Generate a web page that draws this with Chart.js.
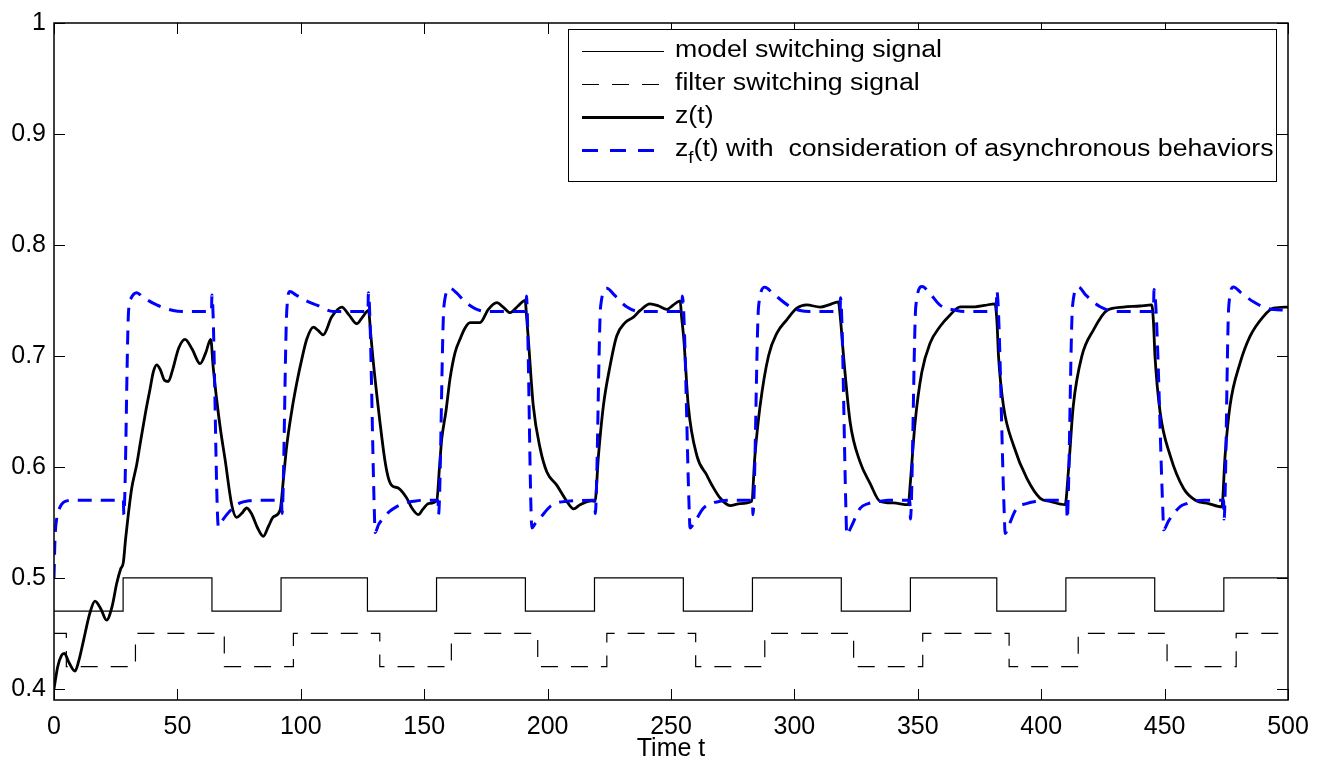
<!DOCTYPE html>
<html>
<head>
<meta charset="utf-8">
<script src="https://cdn.jsdelivr.net/npm/chart.js@4.4.0/dist/chart.umd.min.js"></script>
<style>
  html, body { margin: 0; padding: 0; background: #fff; }
  #wrap { width: 1325px; height: 768px; }
</style>
</head>
<body>
<div id="wrap"><canvas id="chart" width="1325" height="768"></canvas></div>
<script>
// Axis ticks
const xTicks = [0, 50, 100, 150, 200, 250, 300, 350, 400, 450, 500];
const yTicks = [0.4, 0.5, 0.6, 0.7, 0.8, 0.9, 1.0];

// Legend labels
const seriesLabels = ['model switching signal', 'filter switching signal', 'z(t)', 'z_f(t) with  consideration of asynchronous behaviors'];

// Model switching signal (switch times and new levels)
const modelTime  = [0, 28, 64, 92, 127, 155, 191, 219, 255, 283, 319, 347, 382, 410, 446, 474, 500];
const modelValue = [0.47, 0.5, 0.47, 0.5, 0.47, 0.5, 0.47, 0.5, 0.47, 0.5, 0.47, 0.5, 0.47, 0.5, 0.47, 0.5, 0.5];

// Filter switching signal
const filterTime  = [0, 5, 33, 69, 97, 132, 161, 196, 224, 260, 288, 324, 352, 387, 415, 451, 479, 500];
const filterValue = [0.45, 0.42, 0.45, 0.42, 0.45, 0.42, 0.45, 0.42, 0.45, 0.42, 0.45, 0.42, 0.45, 0.42, 0.45, 0.42, 0.45, 0.45];

// z(t)
const zTime = [0, 1.5, 3, 4.2, 6, 8.5, 10, 12, 14.5, 16.6, 19, 21.3, 23.5, 25.4, 27, 28.1, 29, 30.1, 31.5, 33.5,
  35, 37, 38.9, 40.3, 41.6, 43, 44.8, 46.3, 48, 50.5, 53.1, 56, 59.2, 61.5, 63.5, 64.5, 65.9, 67.5, 69.3, 72,
  74, 76, 78.1, 80, 82.5, 84.8, 87, 88.9, 91.6, 93, 94.3, 96.3, 98.4, 100.5, 102.4, 105.1, 107, 109.1, 112.5, 116.6,
  119.5, 122.7, 125, 127.4, 128.4, 129.4, 132.1, 134, 135.5, 137, 139.5, 142.9, 145, 147.6, 149.5, 151.7, 155.1, 156.2, 157.1, 158.8,
  160.5, 162.5, 164.5, 166.5, 168.6, 172.6, 176, 179.4, 182, 184.8, 188, 190.9, 191.5, 192.2, 194.2, 197, 199.7, 203.7,
  207.8, 210.5, 213.2, 217.9, 219.2, 220.6, 222.6, 225.3, 228, 231.4, 234.8, 237.5, 241.5, 245, 248.3, 251, 253.7, 254.3,
  255.2, 257, 260.5, 264.5, 267, 269.9, 273.9, 278, 282.7, 284, 286.1, 289.5, 292.9, 296.9, 301, 305, 310.4, 314,
  317.8, 318.6, 319.9, 322.6, 326.6, 330.7, 334.7, 340.1, 346.2, 346.9, 348.9, 351.6, 355, 359, 363.1, 367.2, 373.2, 377,
  381.3, 382.1, 382.7, 384.7, 388.8, 394.2, 399.6, 403.6, 409.7, 411, 413, 416.5, 421.2, 426.6, 433.3, 440, 444.8, 445.5,
  446.1, 448.2, 452.3, 457.7, 462.5, 467.8, 473.2, 474.5, 476.5, 480.6, 484.6, 490, 494.1, 500];
const zValue = [0.400, 0.420, 0.430, 0.432, 0.424, 0.416, 0.425, 0.444, 0.468, 0.479, 0.472, 0.462, 0.474, 0.495, 0.508, 0.514, 0.535, 0.557, 0.581, 0.602,
  0.622, 0.648, 0.670, 0.686, 0.692, 0.688, 0.678, 0.677, 0.687, 0.707, 0.715, 0.706, 0.693, 0.703, 0.715, 0.690, 0.661, 0.633, 0.607, 0.566,
  0.5545, 0.558, 0.563, 0.558, 0.545, 0.5375, 0.547, 0.555, 0.561, 0.590, 0.619, 0.650, 0.676, 0.698, 0.715, 0.726, 0.723, 0.719, 0.735, 0.744,
  0.737, 0.729, 0.735, 0.741, 0.718, 0.694, 0.640, 0.607, 0.590, 0.583, 0.581, 0.572, 0.563, 0.557, 0.562, 0.567, 0.570, 0.600, 0.625, 0.650,
  0.680, 0.703, 0.715, 0.725, 0.730, 0.730, 0.742, 0.748, 0.744, 0.739, 0.745, 0.750, 0.735, 0.715, 0.655, 0.6165, 0.5955, 0.5836,
  0.569, 0.5622, 0.566, 0.5694, 0.569, 0.610, 0.655, 0.691, 0.718, 0.730, 0.735, 0.741, 0.747, 0.745, 0.742, 0.746, 0.7497, 0.735,
  0.715, 0.655, 0.610, 0.5926, 0.582, 0.572, 0.5652, 0.567, 0.569, 0.610, 0.655, 0.700, 0.7205, 0.7325, 0.743, 0.746, 0.744, 0.746,
  0.7488, 0.735, 0.700, 0.640, 0.6045, 0.585, 0.569, 0.5676, 0.566, 0.5836, 0.640, 0.685, 0.7116, 0.7265, 0.737, 0.7443, 0.7443, 0.7455,
  0.747, 0.730, 0.700, 0.655, 0.6193, 0.5896, 0.5717, 0.569, 0.566, 0.5955, 0.655, 0.700, 0.7235, 0.741, 0.744, 0.745, 0.746, 0.730,
  0.700, 0.649, 0.610, 0.5806, 0.570, 0.567, 0.564, 0.610, 0.655, 0.6937, 0.7176, 0.7355, 0.743, 0.744];

// z_f(t)
const zfTime = [0, 0.4, 1, 1.8, 3, 4.5, 7.8, 28.1, 28.3, 30.2, 31.2, 33.5, 36, 41.6, 48.3, 55, 63.8, 64, 66.2, 66.6,
  68, 70, 72.5, 75.4, 79, 82.1, 92.2, 92.4, 94.3, 95.6, 98, 102, 106.5, 113.2, 127.2, 127.4, 129.8, 130.1, 131.5, 133.5,
  136, 138.9, 142, 145.6, 150, 155.6, 155.8, 158, 160.5, 163, 167, 172.6, 178, 191.2, 191.4, 193.3, 193.6, 195, 197, 201,
  204.5, 207.8, 219.1, 219.3, 221.5, 224, 227, 232, 237.5, 254.4, 254.6, 257.4, 257.7, 259.5, 263.1, 266, 269.9, 274, 283.0, 283.2,
  285.5, 288.1, 291, 298.3, 302.3, 306, 318.5, 318.7, 320.9, 321.2, 323, 326.6, 330, 334.7, 338, 346.8, 347.0, 349.2, 351.7, 355,
  359, 365.8, 370, 381.8, 382.0, 385.0, 385.4, 387, 390, 394, 398, 402, 410.3, 410.5, 412.7, 415.1, 418, 423.9, 430.7, 445.5,
  445.7, 449.3, 449.6, 451.5, 456.3, 459, 461.7, 466, 473.9, 474.1, 476.0, 477.9, 481, 486, 491.4, 500];
const zfValue = [0.500, 0.535, 0.552, 0.560, 0.566, 0.569, 0.570, 0.570, 0.557, 0.740, 0.752, 0.757, 0.753, 0.746, 0.741, 0.740, 0.740, 0.755, 0.560, 0.546,
  0.551, 0.557, 0.563, 0.5676, 0.5695, 0.570, 0.570, 0.558, 0.740, 0.758, 0.755, 0.750, 0.7458, 0.740, 0.740, 0.757, 0.560, 0.541, 0.548, 0.554,
  0.560, 0.5643, 0.5675, 0.569, 0.570, 0.570, 0.557, 0.745, 0.761, 0.757, 0.748, 0.741, 0.740, 0.740, 0.754, 0.560, 0.545, 0.549, 0.554, 0.5643,
  0.568, 0.569, 0.570, 0.558, 0.745, 0.761, 0.755, 0.7443, 0.740, 0.740, 0.754, 0.560, 0.545, 0.550, 0.5627, 0.567, 0.569, 0.570, 0.570, 0.557,
  0.745, 0.762, 0.757, 0.7443, 0.741, 0.740, 0.740, 0.7525, 0.560, 0.539, 0.546, 0.5627, 0.567, 0.569, 0.570, 0.570, 0.553, 0.745, 0.7625, 0.756,
  0.7458, 0.741, 0.740, 0.740, 0.759, 0.560, 0.540, 0.548, 0.5625, 0.567, 0.569, 0.570, 0.570, 0.553, 0.745, 0.7622, 0.755, 0.7443, 0.740, 0.740,
  0.7598, 0.560, 0.5434, 0.551, 0.5643, 0.567, 0.569, 0.570, 0.570, 0.553, 0.745, 0.7622, 0.757, 0.7488, 0.743, 0.741];

const FONT = "'Liberation Sans', Arial, Helvetica, sans-serif";
const BLUE = '#0000ff';

function toPoints(xs, ys) {
  return xs.map((x, i) => ({ x: x, y: ys[i] }));
}

// Box around the plot with inward tick marks, plus the legend
const framePlugin = {
  id: 'frame',
  afterDraw(chart) {
    const { ctx, chartArea: a } = chart;
    const xs = chart.scales.x, ys = chart.scales.y;
    const tl = 11;
    ctx.save();
    ctx.strokeStyle = '#000';
    ctx.lineWidth = 1;
    ctx.beginPath();
    xTicks.forEach(v => {
      const px = Math.round(xs.getPixelForValue(v)) + 0.5;
      ctx.moveTo(px, a.bottom); ctx.lineTo(px, a.bottom - tl);
      ctx.moveTo(px, a.top); ctx.lineTo(px, a.top + tl);
    });
    yTicks.forEach(v => {
      const py = Math.round(ys.getPixelForValue(v)) + 0.5;
      ctx.moveTo(a.left, py); ctx.lineTo(a.left + tl, py);
      ctx.moveTo(a.right, py); ctx.lineTo(a.right - tl, py);
    });
    ctx.stroke();
    ctx.lineWidth = 1.5;
    ctx.strokeRect(a.left, a.top, a.right - a.left, a.bottom - a.top);

    // legend
    const lx = 568, ly = 29, lw = 708, lh = 152;
    ctx.fillStyle = '#fff';
    ctx.fillRect(lx, ly, lw, lh);
    ctx.lineWidth = 1;
    ctx.strokeRect(lx + 0.5, ly + 0.5, lw, lh);

    const rows = [51, 84, 117, 150];
    const styles = [
      { color: '#000', width: 1.2, dash: [] },
      { color: '#000', width: 1.2, dash: [17, 13] },
      { color: '#000', width: 2.8, dash: [] },
      { color: BLUE, width: 3, dash: [16, 12] }
    ];
    rows.forEach((ry, i) => {
      const s = styles[i];
      ctx.strokeStyle = s.color;
      ctx.lineWidth = s.width;
      ctx.setLineDash(s.dash);
      ctx.beginPath();
      ctx.moveTo(582, ry + 0.5);
      ctx.lineTo(664, ry + 0.5);
      ctx.stroke();
    });
    ctx.setLineDash([]);

    ctx.fillStyle = '#000';
    ctx.textBaseline = 'middle';
    ctx.textAlign = 'left';
    ctx.font = '23px ' + FONT;
    const sx = 267 / ctx.measureText(seriesLabels[0]).width;
    const tx = 675;
    rows.forEach((ry, i) => {
      ctx.save();
      ctx.translate(tx, ry);
      ctx.scale(sx, 1);
      const label = seriesLabels[i];
      if (label.indexOf('_') > 0) {
        const base = label.split('_')[0];
        const rest = label.split('_')[1];
        const sub = rest.charAt(0);
        const tail = rest.slice(1);
        ctx.font = '23px ' + FONT;
        ctx.fillText(base, 0, 0);
        let w = ctx.measureText(base).width;
        ctx.font = '16px ' + FONT;
        ctx.fillText(sub, w, 9);
        w += ctx.measureText(sub).width;
        ctx.font = '23px ' + FONT;
        ctx.fillText(tail, w, 0);
      } else {
        ctx.font = '23px ' + FONT;
        ctx.fillText(label, 0, 0);
      }
      ctx.restore();
    });
    ctx.restore();
  }
};

new Chart(document.getElementById('chart'), {
  type: 'line',
  data: {
    datasets: [
      {
        label: seriesLabels[3],
        data: toPoints(zfTime, zfValue),
        borderColor: BLUE,
        borderWidth: 3,
        borderDash: [14, 9],
        cubicInterpolationMode: 'monotone',
        pointRadius: 0,
        fill: false,
        order: 0
      },
      {
        label: seriesLabels[2],
        data: toPoints(zTime, zValue),
        borderColor: '#000',
        borderWidth: 2.8,
        cubicInterpolationMode: 'monotone',
        pointRadius: 0,
        fill: false,
        order: 1
      },
      {
        label: seriesLabels[0],
        data: toPoints(modelTime, modelValue),
        borderColor: '#000',
        borderWidth: 1.2,
        stepped: 'before',
        pointRadius: 0,
        fill: false,
        order: 2
      },
      {
        label: seriesLabels[1],
        data: toPoints(filterTime, filterValue),
        borderColor: '#000',
        borderWidth: 1.2,
        borderDash: [17, 13],
        stepped: 'before',
        pointRadius: 0,
        fill: false,
        order: 3
      }
    ]
  },
  options: {
    responsive: false,
    animation: false,
    devicePixelRatio: 1,
    layout: { padding: { top: 17, right: 37, left: 0, bottom: 0 } },
    plugins: {
      legend: { display: false },
      tooltip: { enabled: false }
    },
    scales: {
      x: {
        type: 'linear',
        min: 0,
        max: 500,
        afterBuildTicks: s => { s.ticks = xTicks.map(v => ({ value: v })); },
        afterFit: s => { s.height = 68; },
        grid: { display: false, drawTicks: false },
        border: { display: false },
        ticks: {
          autoSkip: false,
          maxRotation: 0,
          padding: 12,
          color: '#000',
          font: { family: FONT, size: 25 },
          callback: v => String(v)
        },
        title: {
          display: true,
          text: 'Time t',
          color: '#000',
          padding: { top: 0, bottom: 4 },
          font: { family: FONT, size: 25 }
        }
      },
      y: {
        type: 'linear',
        min: 0.39,
        max: 1,
        afterBuildTicks: s => { s.ticks = yTicks.map(v => ({ value: v })); },
        afterFit: s => { s.width = 54; },
        grid: { display: false, drawTicks: false },
        border: { display: false },
        ticks: {
          autoSkip: false,
          padding: 8,
          color: '#000',
          font: { family: FONT, size: 25 },
          callback: v => (v === 1 ? '1' : Number(v).toFixed(1))
        }
      }
    }
  },
  plugins: [framePlugin]
});
</script>
</body>
</html>
